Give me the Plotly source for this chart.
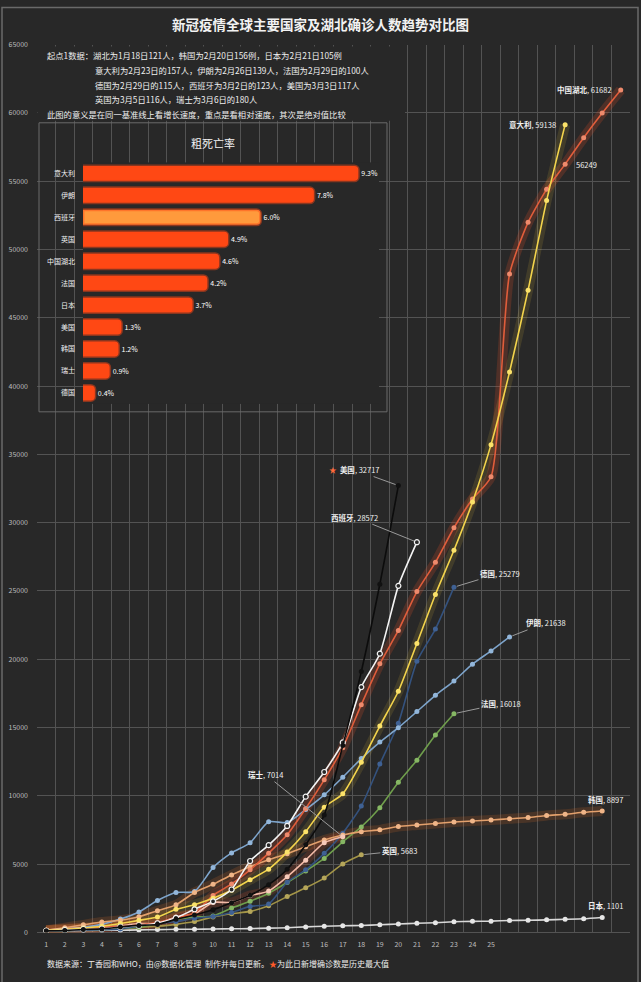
import plotly.graph_objects as go

# ---------------- data ----------------
day_labels = [str(i) for i in range(1, 26)]

hubei = [121, 198, 270, 375, 444, 549, 729, 1052, 1423, 2714, 3554, 4586, 5806, 7153, 9074, 11177,
         13522, 16678, 19665, 22112, 24953, 27100, 29631, 31728, 33366, 48206, 51986, 54406, 56249,
         58182, 59989, 61682]
italy = [157, 229, 322, 453, 655, 888, 1128, 1694, 2036, 2502, 3089, 3858, 4636, 5883, 7375, 9172,
         10149, 12462, 15113, 17660, 21157, 24747, 27980, 31506, 35713, 41035, 47021, 53578, 59138]
korea = [156, 346, 556, 763, 893, 1146, 1595, 2022, 2931, 3526, 4212, 4812, 5328, 5766, 6284, 6767,
         7134, 7382, 7513, 7755, 7869, 7979, 8086, 8162, 8236, 8320, 8413, 8565, 8652, 8799, 8897]
japan = [105, 132, 144, 157, 164, 186, 210, 230, 239, 254, 268, 284, 317, 349, 408, 455, 488, 514,
         568, 620, 675, 716, 780, 814, 829, 878, 889, 924, 963, 1007, 1101]
iran = [139, 245, 388, 593, 978, 1501, 2336, 2922, 3000, 4747, 5823, 6566, 8100, 8042, 9000, 10075,
        11364, 12729, 13938, 14991, 16169, 17361, 18407, 19644, 20610, 21638]
spain = [123, 165, 222, 259, 400, 500, 673, 1073, 1695, 2277, 3146, 5232, 6391, 7798, 9942, 11748,
         13910, 17963, 20410, 25374, 28572]
usa = [117, 149, 217, 262, 402, 518, 583, 959, 1281, 1663, 2179, 2726, 3499, 4632, 6421, 8600,
       13680, 19101, 25493, 32717]
germany = [115, 130, 159, 196, 262, 482, 670, 799, 1040, 1176, 1457, 1908, 2078, 3675, 4585, 5795,
           7272, 9257, 12327, 15320, 19848, 22213, 25279]
france = [100, 130, 191, 204, 285, 377, 653, 949, 1126, 1209, 1784, 2281, 2876, 3661, 4499, 5423,
          6633, 7730, 9134, 10995, 12612, 14459, 16018]
uk = [116, 164, 207, 273, 321, 373, 456, 590, 798, 1140, 1372, 1543, 1950, 2626, 3269, 3983, 5018, 5683]
swiss = [180, 268, 337, 374, 491, 652, 652, 1139, 1359, 2200, 2200, 2700, 3028, 4075, 5294, 6575, 7014]

rate_countries = ["意大利", "伊朗", "西班牙", "英国", "中国湖北", "法国", "日本", "美国", "韩国", "瑞士", "德国"]
rates = [9.3, 7.8, 6.0, 4.9, 4.6, 4.2, 3.7, 1.3, 1.2, 0.9, 0.4]

title_text = "新冠疫情全球主要国家及湖北确诊人数趋势对比图"
note_lines = [
    "起点1数据：湖北为1月18日121人，韩国为2月20日156例，日本为2月21日105例",
    "意大利为2月23日的157人，伊朗为2月26日139人，法国为2月29日的100人",
    "德国为2月29日的115人，西班牙为3月2日的123人，美国为3月3日117人",
    "英国为3月5日116人，瑞士为3月6日的180人",
    "此图的意义是在同一基准线上看增长速度，重点是看相对速度，其次是绝对值比较",
]

# ---------------- style ----------------
W, H = 641, 982
BG = "#282828"
GRID = "#535353"
FONT = "Noto Sans CJK SC"


def px(x):
    return x / W


def py(y):
    return 1 - y / H


fig = go.Figure()

# (name, values, line colour, marker colour, glow colour or None, hollow marker)
styles = [
    ("日本", japan, "#d9d9d9", "#e6e6e6", None, False),
    ("英国", uk, "#a39548", "#b5a65a", None, False),
    ("法国", france, "#6f9e4c", "#86b764", None, False),
    ("德国", germany, "#34527e", "#3f6194", None, False),
    ("伊朗", iran, "#7ea5cc", "#92b6da", None, False),
    ("韩国", korea, "#e3a06c", "#f0b588", "rgba(230,110,40,0.18)", False),
    ("瑞士", swiss, "#f2b9a6", "#f6c9b9", "rgba(240,80,40,0.16)", False),
    ("中国湖北", hubei, "#e05d3b", "#ee8a6c", "rgba(235,80,40,0.20)", False),
    ("意大利", italy, "#f3d44c", "#fbe26a", "rgba(240,200,60,0.13)", False),
    ("西班牙", spain, "#f4f4f4", BG, None, True),
    ("美国", usa, "#0c0c0c", "#111111", None, False),
]

for name, vals, lc, mc, glow, hollow in styles:
    xs = list(range(1, len(vals) + 1))
    if glow:
        fig.add_trace(go.Scatter(x=xs, y=vals, mode="lines", hoverinfo="skip",
                                 line=dict(color=glow, width=10, shape="spline", smoothing=0.6)))
for name, vals, lc, mc, glow, hollow in styles:
    xs = list(range(1, len(vals) + 1))
    marker = dict(size=5, color=mc, line=dict(width=1.2 if hollow else 0, color=lc))
    fig.add_trace(go.Scatter(x=xs, y=vals, mode="lines+markers", name=name, hoverinfo="skip",
                             line=dict(color=lc, width=1.6, shape="spline", smoothing=0.6),
                             marker=marker))

# ---------------- inset bar chart ----------------
bar_colors = ["#ff9a3c" if c == "西班牙" else "#ff4814" for c in rate_countries]
fig.add_trace(go.Bar(
    x=rates, y=rate_countries, orientation="h", xaxis="x2", yaxis="y2",
    marker=dict(color=bar_colors, cornerradius=4,
                line=dict(color="rgba(255,70,20,0.45)", width=3)),
    text=[f"{r:.1f}%" for r in rates], textposition="outside",
    textfont=dict(size=7, color="#ffffff"), cliponaxis=False, hoverinfo="skip"))

# ---------------- annotations ----------------
ann = []
ann.append(dict(text=f"<b>{title_text}</b>", x=0.5, y=py(18), xref="paper", yref="paper",
                showarrow=False, font=dict(size=13.5, color="#f2f2f2"), xanchor="center", yanchor="middle"))
note_pos = [(45, 50), (93, 65), (93, 80), (93, 94), (45, 109)]
for (nx, ny), t in zip(note_pos, note_lines):
    ann.append(dict(text=t, x=px(nx), y=py(ny), xref="paper", yref="paper", showarrow=False,
                    font=dict(size=8.3, color="#eeeeee"), xanchor="left", yanchor="middle"))
ann.append(dict(text="粗死亡率", x=px(213), y=py(138), xref="paper", yref="paper", showarrow=False,
                font=dict(size=11, color="#f2f2f2"), xanchor="center", yanchor="middle"))
ann.append(dict(text="数据来源：丁香园和WHO，由@数据化管理  制作并每日更新。"
                     "<span style='color:#ff5a2a'>★</span>为此日新增确诊数是历史最大值",
                x=px(45), y=py(967), xref="paper", yref="paper", showarrow=False,
                font=dict(size=8, color="#eeeeee"), xanchor="left", yanchor="middle"))

LBL = dict(size=7.5, color="#f0f0f0")


def end_label(name, vals, text, **kw):
    d = dict(x=len(vals), y=vals[-1], xref="x", yref="y", text=text, font=LBL)
    d.update(kw)
    ann.append(d)


end_label("中国湖北", hubei, f"<b>中国湖北</b>, {hubei[-1]}", showarrow=False, xanchor="right", xshift=-7)
ann.append(dict(x=29, y=hubei[28], xref="x", yref="y", text=str(hubei[28]), font=LBL,
                showarrow=False, xanchor="left", xshift=9))
end_label("意大利", italy, f"<b>意大利</b>, {italy[-1]}", showarrow=False, xanchor="right", xshift=-7)
end_label("韩国", korea, f"<b>韩国</b>, {korea[-1]}", showarrow=False, xanchor="center", xshift=3, yshift=11)
end_label("日本", japan, f"<b>日本</b>, {japan[-1]}", showarrow=False, xanchor="center", xshift=3, yshift=12)

arrow = dict(showarrow=True, arrowhead=0, arrowwidth=1, arrowcolor="#9a9a9a", standoff=3)
end_label("美国", usa, f"<span style='color:#ff6a3a'>★</span>  <b>美国</b>, {usa[-1]}",
          ax=-44, ay=-16, **arrow)
end_label("西班牙", spain, f"<b>西班牙</b>, {spain[-1]}", ax=-62, ay=-25, **arrow)
end_label("德国", germany, f"<b>德国</b>, {germany[-1]}", ax=46, ay=-14, **arrow)
end_label("伊朗", iran, f"<b>伊朗</b>, {iran[-1]}", ax=36, ay=-14, **arrow)
end_label("法国", france, f"<b>法国</b>, {france[-1]}", ax=47, ay=-10, **arrow)
end_label("英国", uk, f"<b>英国</b>, {uk[-1]}", ax=38, ay=-4, **arrow)
end_label("瑞士", swiss, f"<b>瑞士</b>, {swiss[-1]}", ax=-77, ay=-62, **arrow)

# ---------------- shapes ----------------
shapes = [
    # text block background (hides the grid behind the notes)
    dict(type="rect", xref="paper", yref="paper", x0=px(37.5), x1=px(405), y0=py(116), y1=py(41),
         fillcolor=BG, line=dict(width=0), layer="above"),
    # inset frame
    dict(type="rect", xref="paper", yref="paper", x0=px(39), x1=px(387), y0=py(410), y1=py(118),
         line=dict(color="#6a6a6a", width=1), fillcolor="rgba(0,0,0,0)", layer="above"),
    # outer border
    dict(type="rect", xref="paper", yref="paper", x0=px(2), x1=px(638), y0=-0.01, y1=py(1.5),
         line=dict(color="#6a6a6a", width=1.5), fillcolor="rgba(0,0,0,0)", layer="above"),
]

fig.update_layout(
    width=W, height=H, margin=dict(l=0, r=0, t=0, b=0),
    paper_bgcolor=BG, plot_bgcolor=BG, showlegend=False,
    font=dict(family=FONT, color="#eeeeee"),
    bargap=0.32, barmode="overlay",
    xaxis=dict(domain=[px(37), px(630)], range=[0.5, 32.5], tickmode="array",
               tickvals=list(range(1, len(day_labels) + 1)), ticktext=day_labels,
               showgrid=False, zeroline=False, showline=False, ticks="",
               tickfont=dict(size=7, color="#bdbdbd"), ticklabelstandoff=7,
               minor=dict(tickmode="linear", tick0=0.5, dtick=1, showgrid=True,
                          gridcolor=GRID, gridwidth=1, ticks="")),
    yaxis=dict(domain=[py(936), py(39)], range=[0, 65000], tickmode="array",
               tickvals=list(range(0, 65001, 5000)), tickformat="d",
               showgrid=True, gridcolor=GRID, gridwidth=1,
               zeroline=True, zerolinecolor=GRID, zerolinewidth=1, showline=False, ticks="",
               tickfont=dict(size=7, color="#bdbdbd"), ticklabelstandoff=8),
    xaxis2=dict(domain=[px(83), px(379)], range=[0, 10], visible=False, anchor="y2"),
    yaxis2=dict(domain=[py(402), py(158)], anchor="x2", type="category",
                categoryorder="array", categoryarray=rate_countries, autorange="reversed",
                showgrid=False, zeroline=False, showline=False, ticks="",
                tickfont=dict(size=7, color="#f0f0f0"), ticklabelstandoff=7),
    annotations=ann, shapes=shapes,
)

fig.write_html("out.html")
